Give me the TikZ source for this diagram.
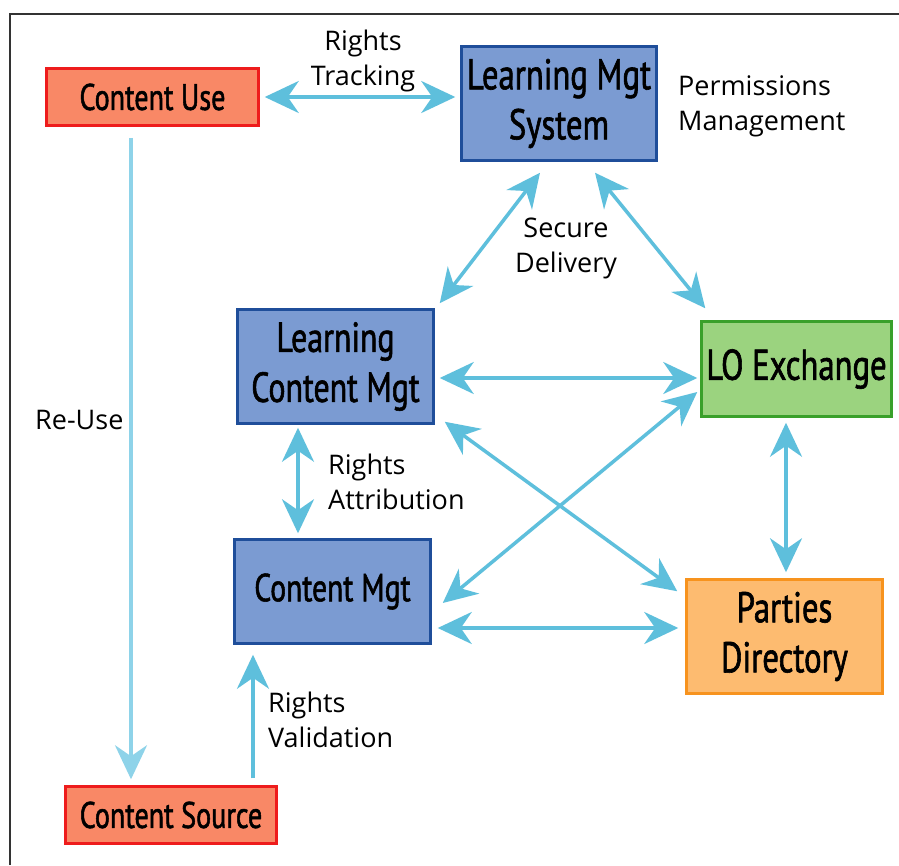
\documentclass[tikz,border=0pt]{standalone}
\usepackage{fontspec}
\usetikzlibrary{arrows.meta,calc}
\newfontfamily\boxfont[FakeStretch=0.76,FakeBold=1.4]{PT Sans}
\newfontfamily\labelfont{Open Sans}
\definecolor{arrowblue}{HTML}{5EBFDC}
\definecolor{reuseblue}{HTML}{8ED3E9}
\definecolor{salmonfill}{HTML}{F98866}
\definecolor{redline}{HTML}{EE1C1C}
\definecolor{bluefill}{HTML}{7B9BD2}
\definecolor{blueline}{HTML}{1F4E9A}
\definecolor{greenfill}{HTML}{9BD37F}
\definecolor{greenline}{HTML}{3AA02A}
\definecolor{orangefill}{HTML}{FDBB70}
\definecolor{orangeline}{HTML}{F7931E}
\definecolor{framegray}{HTML}{333333}
\newcommand{\boxsize}[1]{\fontsize{#1}{50}\selectfont}
\begin{document}
\begin{tikzpicture}[x=1pt,y=-1pt,
  box/.style={draw, line width=2.5pt, inner sep=0pt, align=center,
    font=\boxfont\boxsize{37}},
  redbox/.style={box, draw=redline, fill=salmonfill},
  bluebox/.style={box, draw=blueline, fill=bluefill},
  greenbox/.style={box, draw=greenline, fill=greenfill},
  orangebox/.style={box, draw=orangeline, fill=orangefill},
  lbl/.style={inner sep=0pt, font=\labelfont\fontsize{27}{35}\selectfont},
  arr/.style={line width=3.5pt, draw=arrowblue, {Stealth[length=34pt,width=32pt,inset=11pt]}-{Stealth[length=34pt,width=32pt,inset=11pt]}},
  onearr/.style={line width=3.5pt, -{Stealth[length=34pt,width=32pt,inset=11pt]}}
]
\useasboundingbox (0,0) rectangle (899,865);
\fill[white] (0,0) rectangle (899,865);
% frame lines
\draw[line width=2pt, framegray] (10,865) -- (10,14) -- (899,14);

% boxes
\node[redbox, minimum width=212pt, minimum height=57pt] (cu) at (152.5,97) {Content Use};
\node[bluebox, minimum width=195pt, minimum height=114pt, font=\boxfont\boxsize{43}] (lms) at (559,103.5) {Learning Mgt\\System};
\node[bluebox, minimum width=196pt, minimum height=114pt, font=\boxfont\boxsize{42}] (lcm) at (335.5,366.5) {Learning\\Content Mgt};
\node[greenbox, minimum width=190pt, minimum height=95pt, font=\boxfont\boxsize{43}] (lox) at (796.5,369) {LO Exchange};
\node[bluebox, minimum width=196pt, minimum height=104pt, font=\boxfont\boxsize{39}] (cm) at (332.5,591.5) {Content Mgt};
\node[orangebox, minimum width=196pt, minimum height=114pt, font=\boxfont\boxsize{43}] (pd) at (784.5,636.5) {Parties\\Directory};
\node[redbox, minimum width=211pt, minimum height=57pt] (cs) at (171,815) {Content Source};

% labels (anchored on the baseline of their last line)
\node[lbl, align=center, anchor=base] (ltrack) at (363,85) {Rights\\Tracking};
\node[lbl, align=left, anchor=base west] (lperm) at (678,130) {Permissions\\Management};
\node[lbl, align=center, anchor=base] (lsec) at (566,272) {Secure\\Delivery};
\node[lbl, anchor=base west] (lreuse) at (35,429) {Re-Use};
\node[lbl, align=left, anchor=base west] (lattr) at (328,509) {Rights\\Attribution};
\node[lbl, align=left, anchor=base west] (lval) at (268,747) {Rights\\Validation};

% connectors
\draw[arr] ($(cu.east)+(5,0)$) -- ($(lms.west)+(-5,-6.5)$);
\draw[arr] ($(lms.south)+(-19,11)$) -- ($(lcm.north east)+(5,-5)$);
\draw[arr] ($(lms.south)+(36,11)$) -- ($(lox.north west)+(5,-12)$);
\draw[arr] ($(lcm.east)+(5,11.5)$) -- ($(lox.west)+(-3,9)$);
\draw[arr] ($(lcm.south east)+(10,-3)$) -- ($(pd.north west)+(-8,13)$);
\draw[arr] ($(cm.east)+(11,11.5)$) -- ($(lox.west)+(-3,23)$);
\draw[arr] ($(cm.east)+(6,36.5)$) -- ($(pd.west)+(-7,-8.5)$);
\draw[arr] ($(lox.south)+(-10.5,5)$) -- ($(pd.north)+(1.5,-6)$);
\draw[arr] ($(lcm.south)+(-37.5,3)$) -- ($(cm.north)+(-34.5,-5)$);
\draw[onearr, draw=reuseblue] ($(cu.south)+(-21.5,11)$) -- ($(cs.north)+(-40,-6)$);
\draw[onearr, draw=arrowblue] ($(cs.north)+(82,-7)$) -- ($(cm.south)+(-79.5,10)$);
\end{tikzpicture}
\end{document}
